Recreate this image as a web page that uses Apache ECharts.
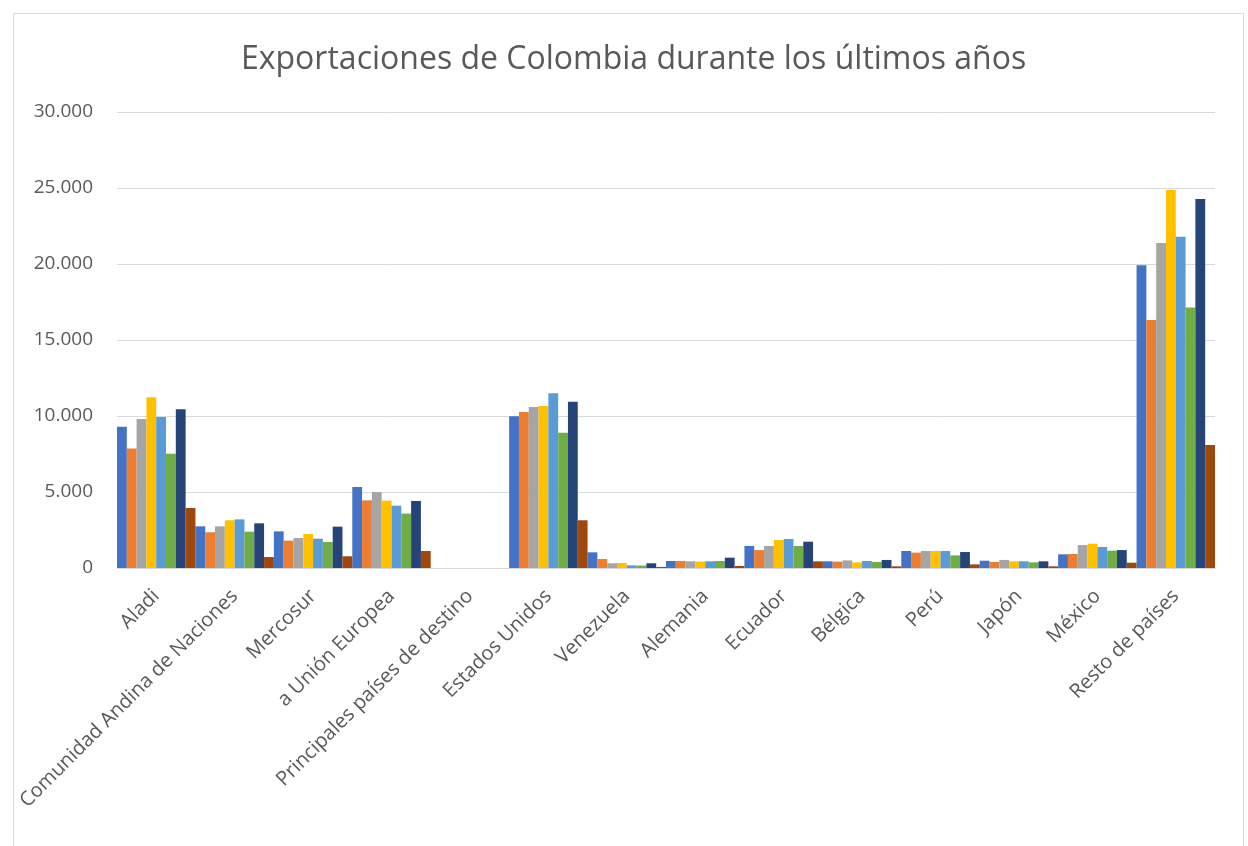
<!DOCTYPE html>
<html>
<head>
<meta charset="utf-8">
<script src="https://cdn.jsdelivr.net/npm/echarts@6/dist/echarts.min.js"></script>
<style>
html,body{margin:0;padding:0;width:1248px;height:846px;overflow:hidden;background:#fff;}
#frame{position:absolute;left:13px;top:13px;width:1231px;height:900px;border:1px solid #d9d9d9;box-sizing:border-box;}
#chart{position:absolute;left:0;top:0;width:1248px;height:846px;}
</style>
</head>
<body>
<div id="frame"></div>
<div id="chart"></div>
<script>
const categories = ["Aladi","Comunidad Andina de Naciones","Mercosur","a Unión Europea","Principales países de destino","Estados Unidos","Venezuela","Alemania","Ecuador","Bélgica","Perú","Japón","México","Resto de países"];
const seriesNames = ["Serie 1","Serie 2","Serie 3","Serie 4","Serie 5","Serie 6","Serie 7","Serie 8"];
const s1 = [9300, 2740, 2410, 5330, null, 9980, 1030, 460, 1450, 440, 1120, 480, 900, 19910];
const s2 = [7870, 2350, 1800, 4450, null, 10260, 590, 460, 1180, 420, 1010, 400, 920, 16320];
const s3 = [9800, 2740, 1970, 5000, null, 10590, 310, 440, 1450, 500, 1120, 530, 1510, 21380];
const s4 = [11230, 3140, 2240, 4430, null, 10660, 330, 420, 1840, 370, 1120, 440, 1600, 24870];
const s5 = [9930, 3200, 1930, 4100, null, 11490, 175, 440, 1910, 460, 1120, 440, 1380, 21800];
const s6 = [7520, 2390, 1710, 3580, null, 8900, 160, 460, 1450, 400, 830, 370, 1140, 17130];
const s7 = [10440, 2940, 2720, 4410, null, 10940, 310, 680, 1730, 530, 1050, 440, 1180, 24280];
const s8 = [3950, 720, 770, 1120, null, 3140, 70, 130, 440, 110, 240, 110, 350, 8090];
const yTicks = [0, 5000, 10000, 15000, 20000, 25000, 30000];
const colors = ["#4472C4","#ED7D31","#A5A5A5","#FFC000","#5B9BD5","#70AD47","#264478","#9E480E"];
const allSeries = [s1,s2,s3,s4,s5,s6,s7,s8];

const chart = echarts.init(document.getElementById('chart'), null, {renderer:'canvas'});
const fmt = v => String(v).replace(/\B(?=(\d{3})+(?!\d))/g, '.');
chart.setOption({
  animation: false,
  color: colors,
  title: {
    text: 'Exportaciones de Colombia durante los últimos años',
    left: 236, top: 39,
    textStyle: {fontFamily: 'Open Sans', fontSize: 32, fontWeight: 'normal', color: '#595959'}
  },
  grid: {left: 117, right: 33, top: 112, bottom: 278, containLabel: false},
  xAxis: {
    type: 'category',
    data: categories,
    axisLine: {lineStyle: {color: '#d9d9d9', width: 1}},
    axisTick: {show: false},
    axisLabel: {interval: 0, rotate: 45, color: '#595959', fontFamily: 'Open Sans', fontSize: 20, margin: 25}
  },
  yAxis: {
    type: 'value',
    min: yTicks[0], max: yTicks[yTicks.length-1], interval: 5000,
    axisLine: {show: false},
    axisTick: {show: false},
    splitLine: {lineStyle: {color: '#d9d9d9', width: 1}},
    axisLabel: {formatter: fmt, color: '#595959', fontFamily: 'Open Sans', fontSize: 19, margin: 24}
  },
  series: allSeries.map((d, i) => ({
    name: seriesNames[i],
    type: 'bar',
    data: d,
    barGap: '0%',
    barCategoryGap: '0%',
    itemStyle: {color: colors[i]}
  }))
});
</script>
</body>
</html>
